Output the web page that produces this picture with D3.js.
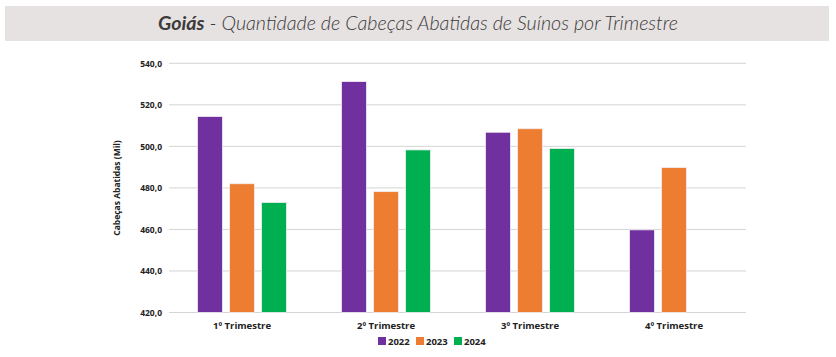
<!DOCTYPE html>
<html><head><meta charset="utf-8">
<script src="https://cdn.jsdelivr.net/npm/d3@7"></script>
<style>body{margin:0;background:#fff}svg{display:block}</style>
</head><body>
<svg id="c" width="836" height="357"></svg>
<script>
const categories = ["1º Trimestre","2º Trimestre","3º Trimestre","4º Trimestre"];
const seriesNames = ["2022","2023","2024"];
const values2022 = [514.4, 531.2, 506.8, 459.8];
const values2023 = [482.0, 478.2, 508.5, 489.8];
const values2024 = [473.0, 498.3, 499.0, null];
const yTicks = [420,440,460,480,500,520,540];
const colors = ["#7030a0","#ed7d31","#00b050"];

const series = [values2022, values2023, values2024];
const svg = d3.select("#c");
const fontAxis = "'Open Sans', sans-serif";

// title band
svg.append("rect").attr("x",5).attr("y",6).attr("width",824).attr("height",35).attr("fill","#e7e2e2");
const t = svg.append("text").attr("x",418).attr("y",30).attr("text-anchor","middle")
  .attr("font-family","Lato, sans-serif").attr("font-size",19.7).attr("fill","#3b3b3b")
  .attr("font-style","italic");
t.append("tspan").attr("font-weight","bold").text("Goiás");
t.append("tspan").attr("font-weight","300").text(" - Quantidade de Cabeças Abatidas de Suínos por Trimestre");

const x0 = d3.scaleBand().domain(categories).range([170,746]).paddingInner(0).paddingOuter(0);
const y = d3.scaleLinear().domain([420,540]).range([312.5,63.3]);
const x1 = d3.scaleBand().domain(seriesNames).range([0,x0.bandwidth()]).paddingInner(0.22).paddingOuter(0.86);

// gridlines
svg.append("g").selectAll("line").data(yTicks).join("line")
  .attr("x1",169).attr("x2",746).attr("y1",d=>y(d)).attr("y2",d=>y(d))
  .attr("stroke","#d4d4d4").attr("stroke-width",1);

// y axis labels
const yAxis = d3.axisLeft(y).tickValues(yTicks).tickSize(0).tickPadding(0)
  .tickFormat(d=>d3.format(".1f")(d).replace(".",","));
const ya = svg.append("g").attr("transform","translate(162,0)").call(yAxis);
ya.select(".domain").remove();
ya.selectAll("text").attr("font-family",fontAxis).attr("font-size",8.5).attr("font-weight","bold").attr("fill","#222").attr("dy","0.32em");

// x axis labels
const xAxis = d3.axisBottom(x0).tickSize(0).tickPadding(0);
const xa = svg.append("g").attr("transform","translate(0,322)").call(xAxis);
xa.select(".domain").remove();
xa.selectAll("text").attr("font-family",fontAxis).attr("font-size",9.5).attr("font-weight","bold").attr("fill","#222");

// y title
svg.append("text").attr("transform","translate(120,188) rotate(-90)").attr("text-anchor","middle")
  .attr("font-family",fontAxis).attr("font-size",8.5).attr("font-weight","bold").attr("fill","#222")
  .text("Cabeças Abatidas (Mil)");

// bars
const data = [];
categories.forEach((c,i)=>seriesNames.forEach((s,j)=>{
  if(series[j][i]!=null) data.push({c,s,j,v:series[j][i]});
}));
svg.append("g").selectAll("rect").data(data).join("rect")
  .attr("x",d=>x0(d.c)+x1(d.s)).attr("width",x1.bandwidth())
  .attr("y",d=>y(d.v)).attr("height",d=>y(420)-y(d.v))
  .attr("fill",d=>colors[d.j]).attr("stroke","#f2eef2").attr("stroke-width",0.8);

// legend
const legX = [378,416,454];
const lg = svg.append("g");
seriesNames.forEach((s,j)=>{
  lg.append("rect").attr("x",legX[j]).attr("y",337).attr("width",8).attr("height",8).attr("fill",colors[j]);
  lg.append("text").attr("x",legX[j]+10).attr("y",344.5).attr("font-family",fontAxis).attr("font-size",9.5)
    .attr("font-weight","bold").attr("fill","#222").text(s);
});
</script>
</body></html>
